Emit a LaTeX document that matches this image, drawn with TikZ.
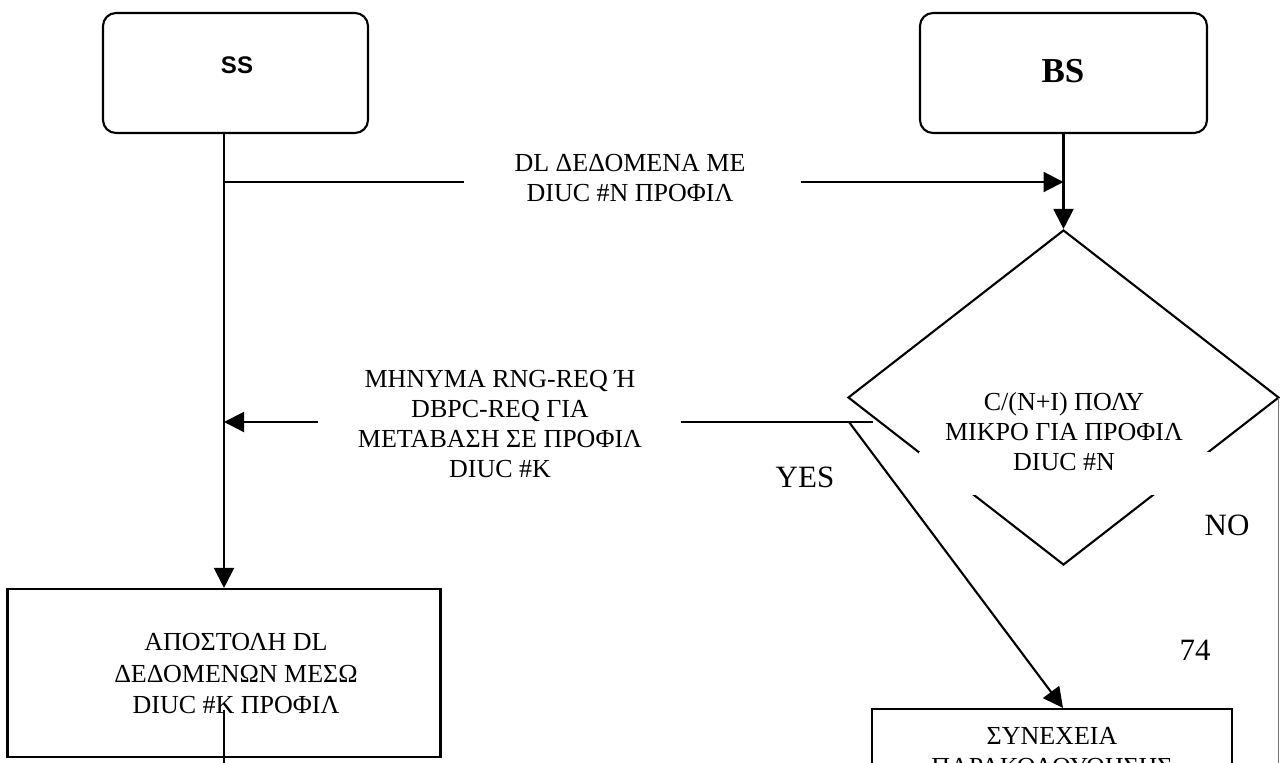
\documentclass[tikz,border=0pt]{standalone}
\usepackage{fontspec}
\setmainfont{Liberation Serif}
\newfontfamily\labelsans{Liberation Sans}
\usetikzlibrary{arrows.meta,shapes.geometric}
\begin{document}
\begin{tikzpicture}[x=1pt,y=-1pt,
  line width=2.1pt,
  arr/.style={-{Triangle[length=20pt,width=20pt]}},
  rbox/.style={draw,rounded corners=13pt,minimum width=265pt,minimum height=120pt,inner sep=0pt},
  pbox/.style={draw,inner sep=0pt},
  txt/.style={font=\fontsize{26}{30}\selectfont,align=center,inner sep=0pt},
  big/.style={font=\fontsize{31}{36}\selectfont,inner sep=0pt},
]
\useasboundingbox (0,0) rectangle (1280,763);
\clip (0,0) rectangle (1280,763);

% actors
\node[rbox] (ss) at (235.5,73) {};
\node[font=\labelsans\bfseries\fontsize{24}{28}\selectfont,inner sep=0pt] (ssT) at (237,65) {SS};
\node[rbox,minimum width=287pt] (bs) at (1063.5,73) {};
\node[font=\bfseries\fontsize{35}{40}\selectfont,inner sep=0pt] (bsT) at (1063,71) {BS};

% decision
\node[draw,diamond,minimum width=431pt,minimum height=335pt,inner sep=0pt] (dec) at (1063.5,397.5) {};
\fill[white] (919,452) rectangle (1210,495);
\node[txt] (decT) at (1064,432) {C/(N+I) ΠΟΛΥ\\ΜΙΚΡΟ ΓΙΑ ΠΡΟΦΙΛ\\DIUC \#N};

% process boxes
\node[pbox,minimum width=433pt,minimum height=168pt] (send) at (224,673) {};
\node[txt,font=\fontsize{26}{31.5}\selectfont] (sendT) at (236,674) {ΑΠΟΣΤΟΛΗ DL\\ΔΕΔΟΜΕΝΩΝ ΜΕΣΩ\\DIUC \#K ΠΡΟΦΙΛ};
\node[pbox,minimum width=360pt,minimum height=140pt] (cont) at (1052,779) {};
\node[txt,font=\fontsize{26}{31}\selectfont] (contT) at (1052,752) {ΣΥΝΕΧΕΙΑ\\ΠΑΡΑΚΟΛΟΥΘΗΣΗΣ};

% message labels
\node[txt] (dlT) at (630,178) {DL ΔΕΔΟΜΕΝΑ ΜΕ\\DIUC \#N ΠΡΟΦΙΛ};
\node[txt] (rqT) at (500,424) {ΜΗΝΥΜΑ RNG-REQ Ή\\DBPC-REQ ΓΙΑ\\ΜΕΤΑΒΑΣΗ ΣΕ ΠΡΟΦΙΛ\\DIUC \#K};
\node[big] (yesT) at (805,477) {YES};
\node[big] (noT) at (1227,525) {NO};
\node[big] (pgT) at (1195,650) {74};

% break points of the connectors
\coordinate (dlA) at (224,182);
\coordinate (dlB) at (464,182);
\coordinate (dlC) at (801,182);
\coordinate (rqA) at (873,422);
\coordinate (rqB) at (681,422);
\coordinate (rqC) at (318,422);
\coordinate (yesA) at (849,422);
\coordinate (sOutA) at (224,710);
\coordinate (sOutB) at (224,780);
\coordinate (edgeTop) at (1278.6,398);
\coordinate (edgeEnd) at (1278.6,780);

% connectors
\draw[arr] ([xshift=-11.5pt]ss.south) -- (send.north);
\draw (dlA) -- (dlB);
\draw[arr] (dlC) -- (dlC -| bs.south);
\draw[arr] (bs.south) -- (dec.north);
\draw (rqA) -- (rqB);
\draw[arr] (rqC) -- (rqC -| send.north);
\draw[arr] (yesA) -- ([xshift=11pt]cont.north);
\draw (sOutA) -- (sOutB);
\draw[black!55,line width=1.3pt] (edgeTop) -- (edgeEnd);
\end{tikzpicture}
\end{document}
